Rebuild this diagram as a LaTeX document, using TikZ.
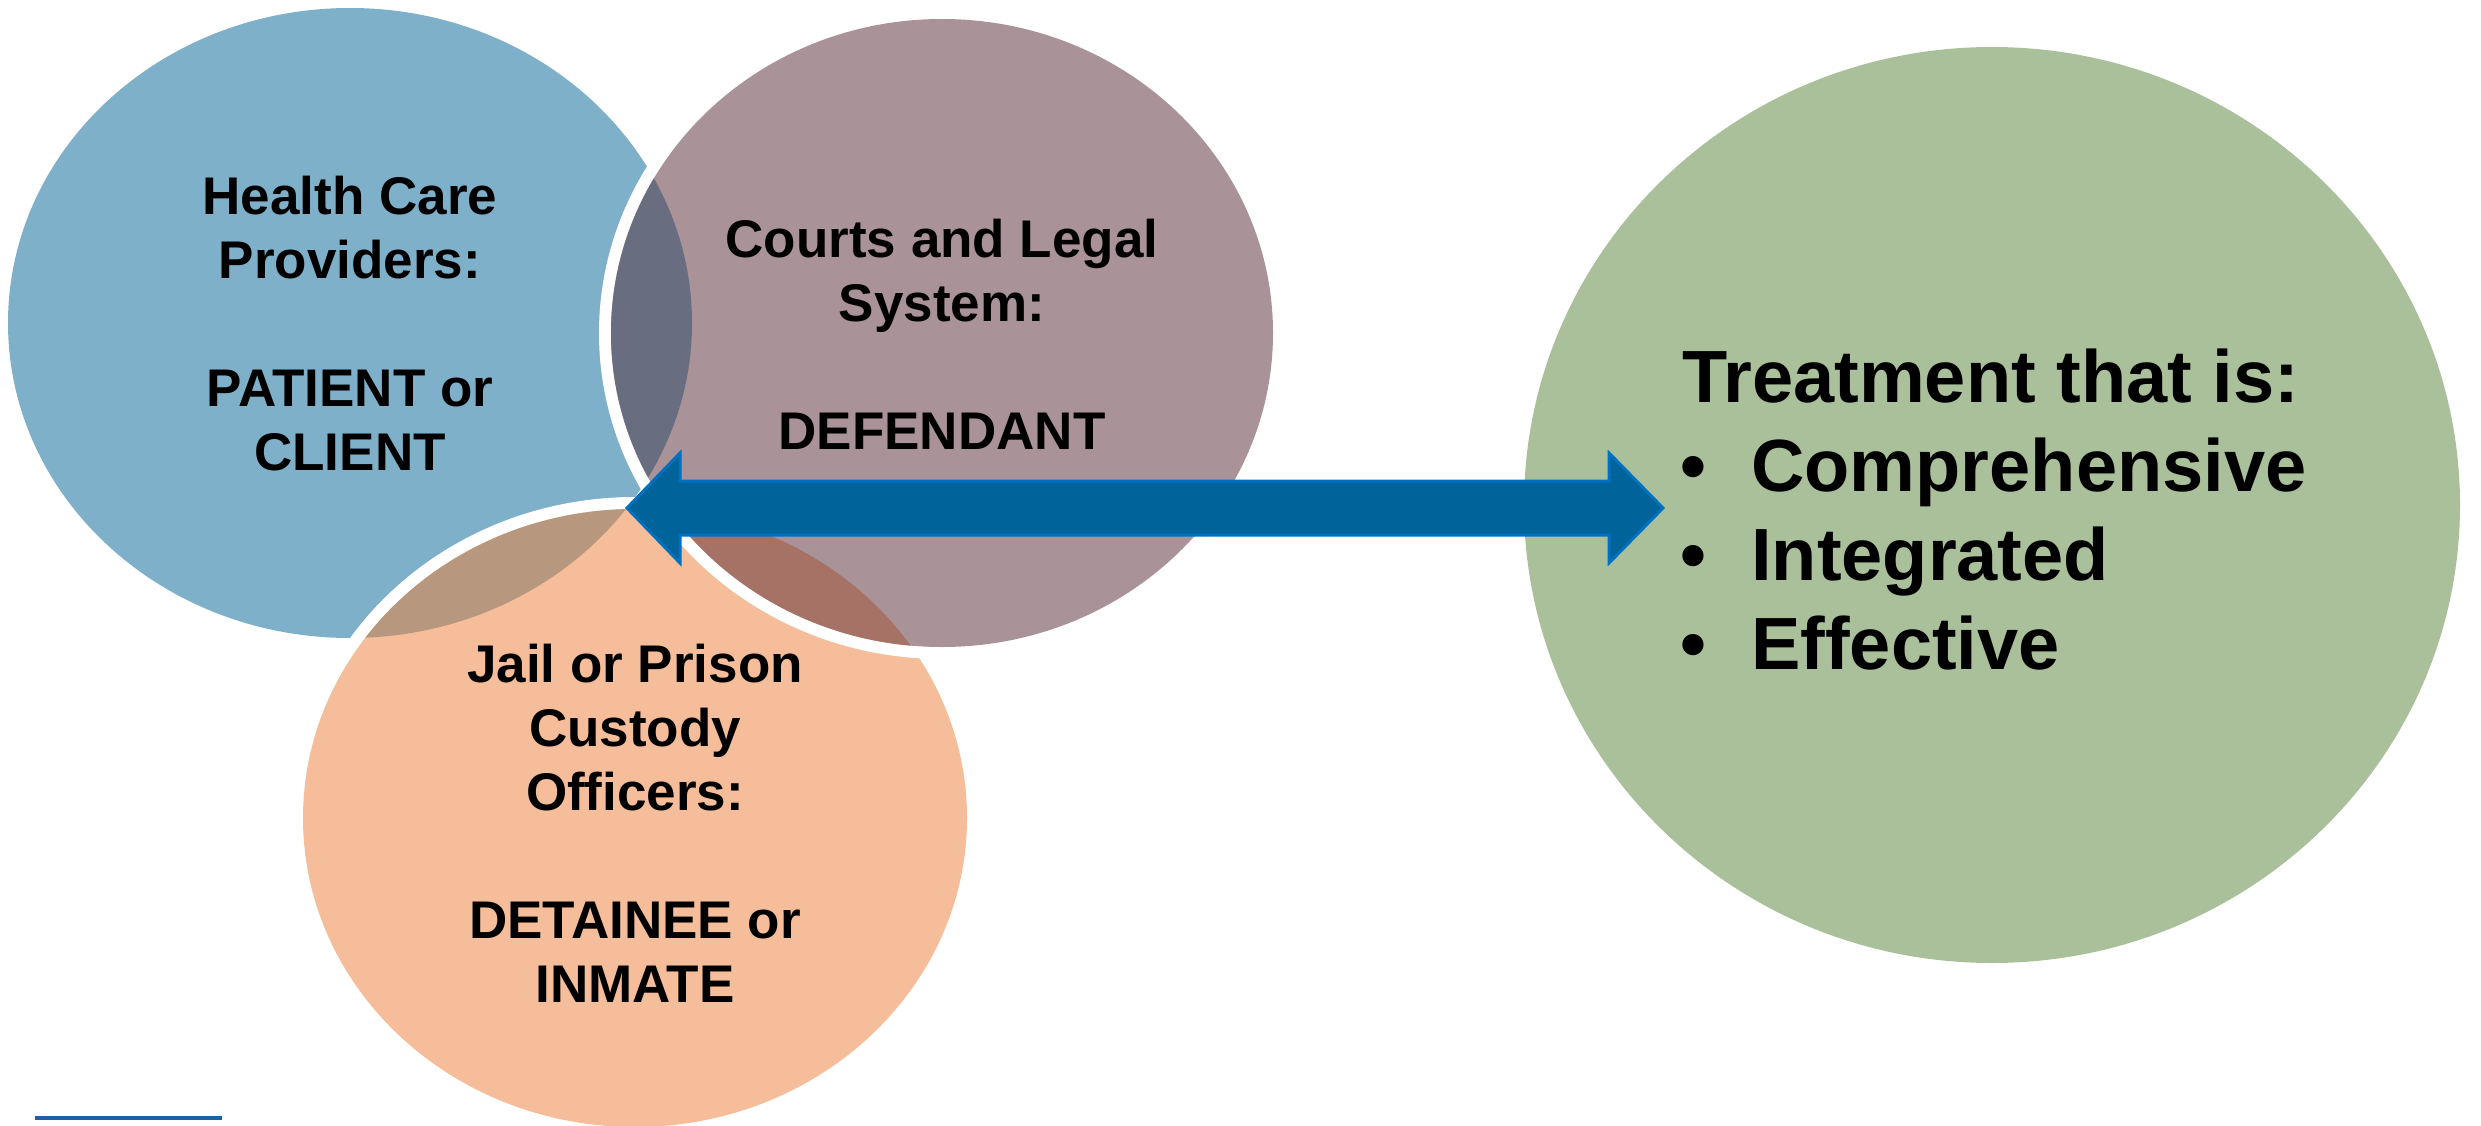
\documentclass[tikz,border=0pt]{standalone}
\usepackage{fontspec}
\setmainfont{Liberation Sans}
\definecolor{healthblue}{RGB}{127,176,201}
\definecolor{courtmauve}{RGB}{169,146,152}
\definecolor{jailpeach}{RGB}{245,189,153}
\definecolor{treatgreen}{RGB}{170,192,155}
\definecolor{lensslate}{RGB}{105,109,128}
\definecolor{lenstan}{RGB}{183,151,125}
\definecolor{lensbrown}{RGB}{165,114,101}
\definecolor{arrowblue}{RGB}{0,100,154}
\definecolor{arrowedge}{RGB}{0,112,192}
\definecolor{ruleblue}{RGB}{31,96,160}
% the three circles of the venn part
\def\health{(350,323) ellipse [x radius=342pt, y radius=315pt]}
\def\courts{(942,333) ellipse [x radius=331pt, y radius=314pt]}
\def\jail{(635,818) ellipse [x radius=332pt, y radius=309pt]}
\begin{document}
\begin{tikzpicture}[x=1pt,y=-1pt,
	halo/.style={draw=white,line width=24pt},
	circletext/.style={font=\fontsize{53}{64}\selectfont\bfseries,align=center,inner sep=0pt},
	bigtext/.style={font=\fontsize{74}{90}\selectfont\bfseries,inner sep=0pt},
	arrowbody/.style={fill=arrowblue,draw=arrowedge,line width=3pt,line join=miter}]
	\useasboundingbox (0,0) rectangle (2481,1126);
	%\draw[very thin,color=gray] (0,0) grid[step=100] (2481,1126);
	\fill[healthblue] \health;
	\draw[halo] \jail;
	\fill[jailpeach] \jail;
	\begin{scope}
		\clip \health;
		\fill[lenstan] \jail;
	\end{scope}
	\draw[halo] \courts;
	\fill[courtmauve] \courts;
	\begin{scope}
		\clip \courts;
		\fill[lensslate] \health;
		\fill[lensbrown] \jail;
	\end{scope}
	\fill[treatgreen] (1992,505) ellipse [x radius=468pt, y radius=458pt];
	\draw[ruleblue, line width=4pt] (35,1118) -- (222,1118);
	% texts
	\node[circletext] (healthtext) at (350,324) {Health Care\\Providers:\\[64pt]PATIENT or\\CLIENT};
	\node[circletext] (courtstext) at (942,334) {Courts and Legal\\System:\\[64pt]DEFENDANT};
	\node[circletext] (jailtext) at (635,823) {Jail or Prison\\Custody\\Officers:\\[64pt]DETAINEE or\\INMATE};
	\node[bigtext, anchor=base west] (title) at (1682,402) {Treatment that is:};
	\node[bigtext, anchor=base] (dot1) at (1693,491) {•};
	\node[bigtext, anchor=base] (dot2) at (1693,580) {•};
	\node[bigtext, anchor=base] (dot3) at (1693,669) {•};
	\node[bigtext, anchor=base west] (item1) at (1751,491) {Comprehensive};
	\node[bigtext, anchor=base west] (item2) at (1751,580) {Integrated};
	\node[bigtext, anchor=base west] (item3) at (1751,669) {Effective};
	% double arrow
	\coordinate (tipL) at (627,508);
	\coordinate (tipR) at (1663,508);
	\draw[arrowbody] (tipL) -- (680,453) -- (680,481) -- (1609,481) -- (1609,453) -- (tipR)
		-- (1609,563) -- (1609,535) -- (680,535) -- (680,563) -- cycle;
\end{tikzpicture}
\end{document}
